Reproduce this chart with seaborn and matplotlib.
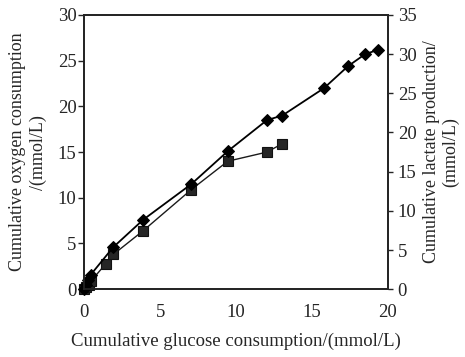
import matplotlib
matplotlib.use("Agg")
import matplotlib.pyplot as plt
import seaborn as sns
import pandas as pd

# data (left-axis units)
dia_x = [0.0, 0.1, 0.25, 0.44, 1.92, 3.89, 7.06, 9.46, 12.04, 13.05, 15.80, 17.38, 18.49, 19.36]
dia_y = [0.0, 0.5, 1.0, 1.6, 4.6, 7.6, 11.5, 15.1, 18.5, 19.0, 22.0, 24.4, 25.7, 26.2]
sq_x = [0.0, 0.1, 0.3, 0.45, 1.44, 1.92, 3.89, 7.06, 9.46, 12.04, 13.03]
sq_y = [0.0, 0.2, 0.5, 0.9, 2.8, 3.8, 6.4, 10.9, 14.0, 15.0, 15.9]

x_ticks = [0, 5, 10, 15, 20]
yl_ticks = [0, 5, 10, 15, 20, 25, 30]
yr_ticks = [0, 5, 10, 15, 20, 25, 30, 35]

sns.set_style("white")
plt.rcParams['font.family'] = ['Liberation Serif', 'DejaVu Serif']

fig = plt.figure(figsize=(4.65, 3.57), dpi=100)
ax = fig.add_axes([0.181, 0.19, 0.653, 0.768])

df_d = pd.DataFrame({"x": dia_x, "y": dia_y})
df_s = pd.DataFrame({"x": sq_x, "y": sq_y})

sns.lineplot(data=df_s, x="x", y="y", ax=ax, color="#1a1a1a", lw=1.0,
             marker="s", markersize=7, markerfacecolor="#262626",
             markeredgecolor="#111111", markeredgewidth=0.8, sort=False,
             clip_on=False)
sns.lineplot(data=df_d, x="x", y="y", ax=ax, color="black", lw=1.3,
             marker="D", markersize=6.5, markerfacecolor="black",
             markeredgecolor="black", sort=False, clip_on=False)

ax.set_xlim(0, 20)
ax.set_ylim(0, 30)
ax.set_xticks(x_ticks)
ax.set_yticks(yl_ticks)
ax.tick_params(axis='x', direction='in', length=3.5, width=1, labelsize=13.5, pad=11)
ax.tick_params(axis='y', direction='out', length=4.5, width=1, labelsize=13.5, pad=1)
for s in ax.spines.values():
    s.set_linewidth(1.2)
    s.set_color("black")
    s.set_visible(True)

ax.set_xlabel("Cumulative glucose consumption/(mmol/L)", fontsize=13.5, labelpad=8)
ax.set_ylabel("Cumulative oxygen consumption\n/(mmol/L)", fontsize=13, labelpad=8,
              linespacing=1.25)

ax2 = ax.twinx()
ax2.set_ylim(0, 35)
ax2.set_yticks(yr_ticks)
ax2.tick_params(axis='y', direction='out', length=3.6, width=1, labelsize=13.5, pad=3.5)
ax2.set_ylabel("Cumulative lactate production/\n(mmol/L)", fontsize=13, labelpad=5,
               linespacing=1.15)
for s in ax2.spines.values():
    s.set_linewidth(1.2)

fig.savefig("out.png", dpi=100)
